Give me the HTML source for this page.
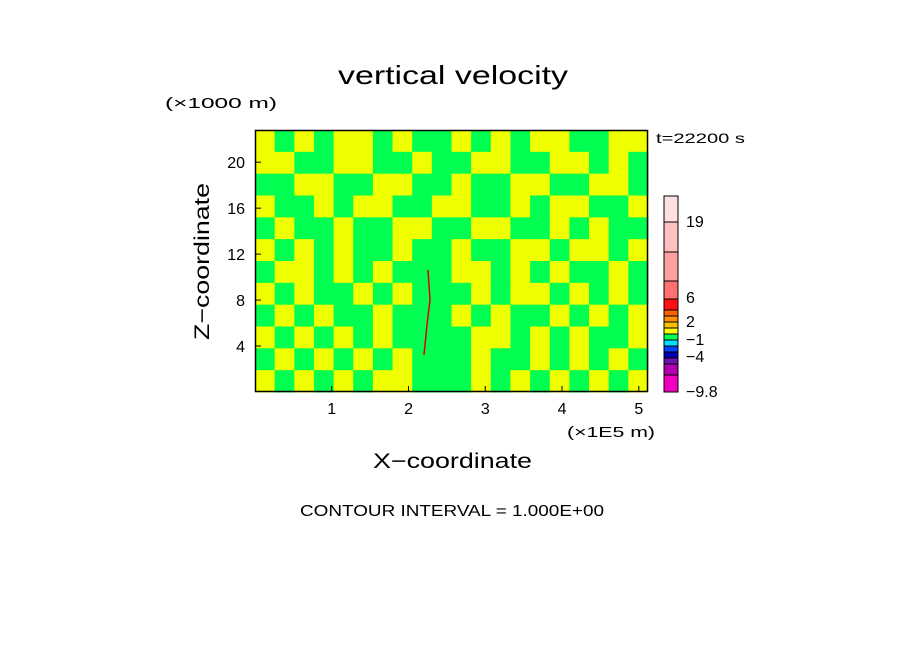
<!DOCTYPE html>
<html><head><meta charset="utf-8"><style>
body{margin:0;background:#fff}
svg text{font-family:"Liberation Sans",sans-serif;fill:#000}
</style></head><body>
<svg width="904" height="654" xmlns="http://www.w3.org/2000/svg">
<rect width="904" height="654" fill="#fff"/>
<text x="338" y="84" font-size="26" textLength="230" lengthAdjust="spacingAndGlyphs">vertical velocity</text>
<text x="165" y="108" font-size="15" textLength="112" lengthAdjust="spacingAndGlyphs">(×1000 m)</text>
<text x="656" y="143" font-size="14" textLength="89" lengthAdjust="spacingAndGlyphs">t=22200 s</text>
<g id="field"></g>
<polyline points="428,270 430,300 427,325 424,355" fill="none" stroke="#e00000" stroke-width="1.5"/>
<rect x="255.5" y="130.5" width="392" height="261" fill="none" stroke="#000" stroke-width="1.5"/>
<g id="xt"></g><g id="yt"></g>
<text x="567" y="437" font-size="15" textLength="88" lengthAdjust="spacingAndGlyphs">(×1E5 m)</text>
<text x="373" y="468" font-size="21" textLength="159" lengthAdjust="spacingAndGlyphs">X−coordinate</text>
<text x="0" y="0" font-size="21" textLength="157" lengthAdjust="spacingAndGlyphs" transform="translate(209,340) rotate(-90)">Z−coordinate</text>
<text x="300" y="516" font-size="16" textLength="304" lengthAdjust="spacingAndGlyphs">CONTOUR INTERVAL = 1.000E+00</text>
<g id="cb"></g>
</svg>
<script>
const NS="http://www.w3.org/2000/svg";
const xTicks=[1,2,3,4,5];
const zTicks=[4,8,12,16,20];
const cbLabels=["19","6","2","−1","−4","−9.8"];
const cbLabelY=[222,298,322,340,357,392];
const cbEdges=[196,222,252,281,299,310,316,322,328,334,340,346,352,358,364,375,392];
const cbColors=["#ffe0e0","#ffc0c0","#ffa0a0","#ff7070","#ff1010","#ff6000","#ff9000","#ffc000","#ffff00","#00ff50","#00e0ff","#0040ff","#0000b0","#7010b0","#b000b0","#f000c0"];
const fieldRows=[
"YGYGYYGYGGYGYGYYGGYY",
"YYGGYYGGYGGYYGGYYGYG",
"GGYYGGYYGGYGGYYGGYYG",
"YGGYGYYGGYYGGYGYYGGY",
"GYGGYGGYYGGYYGGYGYGG",
"YGYGYGGYGGYGGYYGYYGY",
"GYYGYGYGGGYYGYGYGGYG",
"YGYGGYGYGGGYGYYGYGYG",
"GYGYGGYGGGYGYGGYGYGY",
"YGYGYGYGGGGYYGYGYGGY",
"GYGYGYGYGGGYGGYGYGYG",
"YGYGYGYYGGGYGYGYGYGY"];
const X0=255,X1=648,Y0=130,Y1=392,xmax=5.12,zmax=22.8;
const sx=v=>X0+(X1-X0)*v/xmax, sz=v=>Y1-(Y1-Y0)*v/zmax;
function el(t,a,p){const e=document.createElementNS(NS,t);for(const k in a)e.setAttribute(k,a[k]);p.appendChild(e);return e;}
const f=document.getElementById('field');
const nr=fieldRows.length,nc=fieldRows[0].length,cw=(X1-X0)/nc,ch=(Y1-Y0)/nr;
fieldRows.forEach((row,r)=>{[...row].forEach((c,i)=>{
 const e=el('rect',{x:X0+i*cw,y:Y0+r*ch,width:cw+0.5,height:ch+0.5,fill:c==='Y'?'#f0ff00':'#00ff50'},f);
 
 
});});
const xt=document.getElementById('xt');
xTicks.forEach(v=>{const x=sx(v);
 el('line',{x1:x,x2:x,y1:Y1,y2:Y1-6,stroke:'#000'},xt);
 const t=el('text',{x:x,y:414,'font-size':16,'text-anchor':'middle'},xt);t.textContent=v;
 
 
});
const yt=document.getElementById('yt');
zTicks.forEach(v=>{const y=sz(v);
 el('line',{x1:X0,x2:X0+6,y1:y,y2:y,stroke:'#000'},yt);
 const t=el('text',{x:245,y:y+6,'font-size':16,'text-anchor':'end'},yt);t.textContent=v;
 
 
});
const cb=document.getElementById('cb');
cbColors.forEach((c,i)=>{
 const r=el('rect',{x:664,y:cbEdges[i],width:14,height:cbEdges[i+1]-cbEdges[i],fill:c,stroke:'#000','stroke-width':1},cb);
 
 
});
cbLabels.forEach((l,i)=>{
 const t=el('text',{x:686,y:cbLabelY[i]+5,'font-size':16},cb);t.textContent=l;
 
 
});
</script>
</body></html>
